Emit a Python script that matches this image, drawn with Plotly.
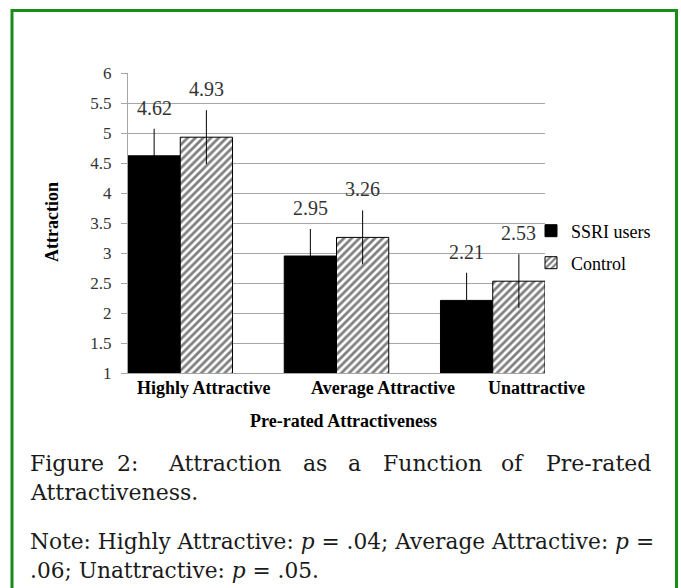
import plotly.graph_objects as go

categories = ["Highly Attractive", "Average Attractive", "Unattractive"]
ssri = [4.62, 2.95, 2.21]
control = [4.93, 3.26, 2.53]
ssri_err = [0.45, 0.45, 0.46]
control_err = [0.45, 0.45, 0.45]
y_ticks = [1, 1.5, 2, 2.5, 3, 3.5, 4, 4.5, 5, 5.5, 6]

W, H = 681, 588
L, R, T, B = 128, 136, 73, 215
PW, PH = W - L - R, H - T - B

def px(x):
    return (x - L) / PW

def py(y):
    return (H - B - y) / PH

SERIF = "Liberation Serif"
CAP = "DejaVu Serif"
BARGAP = 0.331
half = (1 - BARGAP) / 4

fig = go.Figure()
fig.add_trace(go.Bar(
    x=categories, y=ssri, name="SSRI users", legend="legend", showlegend=True,
    marker=dict(color="black", line=dict(color="black", width=1)),
    error_y=dict(type="data", array=ssri_err, visible=True, color="black", thickness=1, width=0),
))
fig.add_trace(go.Bar(
    x=categories, y=control, name="Control", legend="legend2", showlegend=True,
    marker=dict(color="white", line=dict(color="black", width=1),
                pattern=dict(shape="/", fgcolor="black", bgcolor="white", size=5.5, solidity=0.5)),
    error_y=dict(type="data", array=control_err, visible=True, color="black", thickness=1, width=0),
))

annotations = []
lab_font = dict(family=SERIF, size=20, color="#333333")
for i, (v, e) in enumerate(zip(ssri, ssri_err)):
    annotations.append(dict(x=i - half, y=v + e, xref="x", yref="y", text=f"{v:.2f}", showarrow=False,
                            yanchor="middle", yshift=21, font=lab_font))
for i, (v, e) in enumerate(zip(control, control_err)):
    annotations.append(dict(x=i + half, y=v + e, xref="x", yref="y", text=f"{v:.2f}", showarrow=False,
                            yanchor="middle", yshift=21, font=lab_font))

# category labels
cat_shift = [23, 46, 44]
for i, c in enumerate(categories):
    annotations.append(dict(x=i, y=py(388), xref="x", yref="paper", text=f"<b>{c}</b>", showarrow=False,
                            xshift=cat_shift[i], yanchor="middle",
                            font=dict(family=SERIF, size=18, color="black")))

# axis titles
annotations.append(dict(x=px(343), y=py(421), xref="paper", yref="paper", text="<b>Pre-rated Attractiveness</b>",
                        showarrow=False, yanchor="middle", xanchor="center",
                        font=dict(family=SERIF, size=18, color="black")))
annotations.append(dict(x=px(52), y=py(222), xref="paper", yref="paper", text="<b>Attraction</b>",
                        showarrow=False, textangle=-90, yanchor="middle", xanchor="center",
                        font=dict(family=SERIF, size=18, color="black")))

# caption, first line justified
cap_font = dict(family=CAP, size=22, color="#1a1a1a")
words = ["Figure", "2:", "Attraction", "as", "a", "Function", "of"]
word_x = [28, 115, 166, 301, 346, 381, 499]
for w, x in zip(words, word_x):
    annotations.append(dict(x=px(x), y=py(463), xref="paper", yref="paper", text=w, showarrow=False,
                            xanchor="left", yanchor="middle", font=cap_font))
annotations.append(dict(x=px(653), y=py(463), xref="paper", yref="paper", text="Pre-rated", showarrow=False,
                        xanchor="right", yanchor="middle", font=cap_font))
annotations.append(dict(x=px(28), y=py(492), xref="paper", yref="paper", text="Attractiveness.", showarrow=False,
                        xanchor="left", yanchor="middle", font=cap_font))
annotations.append(dict(x=px(28), y=py(541), xref="paper", yref="paper",
                        text="Note: Highly Attractive: <i>p</i> = .04; Average Attractive: <i>p</i> =",
                        showarrow=False, xanchor="left", yanchor="middle",
                        font=dict(family=CAP, size=21.7, color="#1a1a1a")))
annotations.append(dict(x=px(28), y=py(570), xref="paper", yref="paper",
                        text=".06; Unattractive: <i>p</i> = .05.",
                        showarrow=False, xanchor="left", yanchor="middle",
                        font=dict(family=CAP, size=21.7, color="#1a1a1a")))

legend_common = dict(xanchor="left", yanchor="middle", bgcolor="rgba(0,0,0,0)",
                     font=dict(family=SERIF, size=18, color="black"), itemwidth=30,
                     tracegroupgap=0)

fig.update_layout(
    width=W, height=H, autosize=False, showlegend=True,
    margin=dict(l=L, r=R, t=T, b=B, pad=0),
    paper_bgcolor="white", plot_bgcolor="white",
    barmode="group", bargap=BARGAP, bargroupgap=0,
    xaxis=dict(type="category", range=[-0.3345, 2.3345], showticklabels=False, ticks="",
               showline=True, linecolor="#a6a6a6", linewidth=1, showgrid=False, zeroline=False),
    yaxis=dict(range=[1, 6], tickvals=y_ticks, ticktext=[f"{t:g}" for t in y_ticks],
               ticks="outside", ticklen=6, tickcolor="#a6a6a6", tickwidth=1,
               showline=True, linecolor="#a6a6a6", linewidth=1,
               showgrid=True, gridcolor="#a6a6a6", gridwidth=1, zeroline=False,
               tickfont=dict(family=SERIF, size=17, color="#333333"), ticklabelstandoff=6),
    legend=dict(x=px(531), y=py(231), **legend_common),
    legend2=dict(x=px(531), y=py(263), **legend_common),
    annotations=annotations,
    shapes=[dict(type="rect", xref="paper", yref="paper", x0=px(12), x1=px(676.5), y0=py(10.5), y1=py(620),
                 line=dict(color="#1a8c1a", width=3), fillcolor="rgba(0,0,0,0)", layer="below")],
)

fig.write_html("out.html", config={"displayModeBar": False},
               post_script="document.body.style.margin='0px';document.body.style.padding='0px';")
